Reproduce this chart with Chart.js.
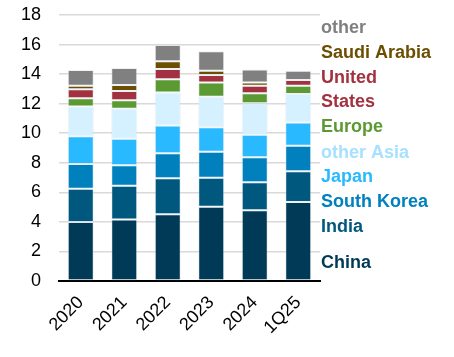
<!DOCTYPE html>
<html>
<head>
<meta charset="utf-8">
<script src="https://cdn.jsdelivr.net/npm/chart.js@4/dist/chart.umd.min.js"></script>
<style>
html,body{margin:0;padding:0;background:#fff;}
#wrap{width:454px;height:357px;}
</style>
</head>
<body>
<div id="wrap"><canvas id="c" width="454" height="357"></canvas></div>
<script>
const categories = ["2020","2021","2022","2023","2024","1Q25"];
const china      = [4.00, 4.17, 4.51, 5.03, 4.78, 5.35];
const india      = [2.25, 2.28, 2.44, 1.96, 1.90, 2.07];
const southKorea = [1.67, 1.38, 1.69, 1.76, 1.69, 1.74];
const japan      = [1.87, 1.80, 1.89, 1.65, 1.53, 1.56];
const otherAsia  = [2.01, 2.03, 2.22, 2.07, 2.12, 1.94];
const europe     = [0.56, 0.57, 0.90, 0.97, 0.68, 0.56];
const us         = [0.61, 0.63, 0.70, 0.50, 0.52, 0.38];
const saudi      = [0.25, 0.40, 0.52, 0.29, 0.22, 0.00];
const other      = [1.06, 1.15, 1.10, 1.31, 0.88, 0.63];
const yTicks     = [0,2,4,6,8,10,12,14,16,18];

const series = [
  {name:"China", data:china, color:"#003A57"},
  {name:"India", data:india, color:"#00587F"},
  {name:"South Korea", data:southKorea, color:"#0081BD"},
  {name:"Japan", data:japan, color:"#29B9FF"},
  {name:"other Asia", data:otherAsia, color:"#D5F0FF"},
  {name:"Europe", data:europe, color:"#5B9A32"},
  {name:"United States", data:us, color:"#A23240"},
  {name:"Saudi Arabia", data:saudi, color:"#6B4E00"},
  {name:"other", data:other, color:"#808080"}
];

// right-side labels: text, colour, pixel y (layout)
const sideLabels = [
  {t:"other", c:"#808080", y:28},
  {t:"Saudi Arabia", c:"#6B4E00", y:53},
  {t:"United", c:"#A23240", y:78},
  {t:"States", c:"#A23240", y:102},
  {t:"Europe", c:"#5B9A32", y:127},
  {t:"other Asia", c:"#A6E1FF", y:153},
  {t:"Japan", c:"#29B9FF", y:177},
  {t:"South Korea", c:"#0081BD", y:202},
  {t:"India", c:"#00587F", y:227},
  {t:"China", c:"#003A57", y:263}
];

const sidePlugin = {
  id:"side",
  afterDraw(chart){
    const ctx = chart.ctx;
    ctx.save();
    ctx.font = "bold 18px 'Liberation Sans', Arial, sans-serif";
    ctx.textBaseline = "middle";
    ctx.textAlign = "left";
    const x = chart.chartArea.right + 1;
    sideLabels.forEach(l=>{ ctx.fillStyle = l.c; ctx.fillText(l.t, x, l.y); });
    ctx.restore();
  }
};

new Chart(document.getElementById("c"), {
  type:"bar",
  data:{
    labels:categories,
    datasets:series.map(s=>({
      label:s.name, data:s.data, backgroundColor:s.color,
      borderColor:"rgba(210,225,235,0.45)", borderWidth:1, borderSkipped:false,
      barPercentage:0.6, categoryPercentage:1.0
    }))
  },
  options:{
    responsive:false, animation:false,
    layout:{padding:{top:15,right:134,left:0,bottom:0}},
    plugins:{legend:{display:false}, tooltip:{enabled:false}},
    scales:{
      x:{
        stacked:true,
        grid:{display:false, drawTicks:false},
        border:{display:true, color:"#000", width:2},
        ticks:{color:"#000", font:{family:"'Liberation Sans', Arial, sans-serif", size:18}, minRotation:45, maxRotation:45, padding:11},
        afterFit(s){ s.height = 76; s.paddingTop = 0; s.paddingBottom = 0; s.paddingLeft = 0; s.paddingRight = 0; }
      },
      y:{
        stacked:true, min:0, max:18,
        afterBuildTicks(s){ s.ticks = yTicks.map(v=>({value:v})); },
        grid:{color:"#D9D9D9", lineWidth:1.5, drawTicks:false},
        border:{display:false},
        ticks:{color:"#000", font:{family:"'Liberation Sans', Arial, sans-serif", size:18}, padding:18},
        afterFit(s){ s.width = 59; s.paddingTop = 0; s.paddingBottom = 0; }
      }
    }
  },
  plugins:[sidePlugin]
});
</script>
</body>
</html>
